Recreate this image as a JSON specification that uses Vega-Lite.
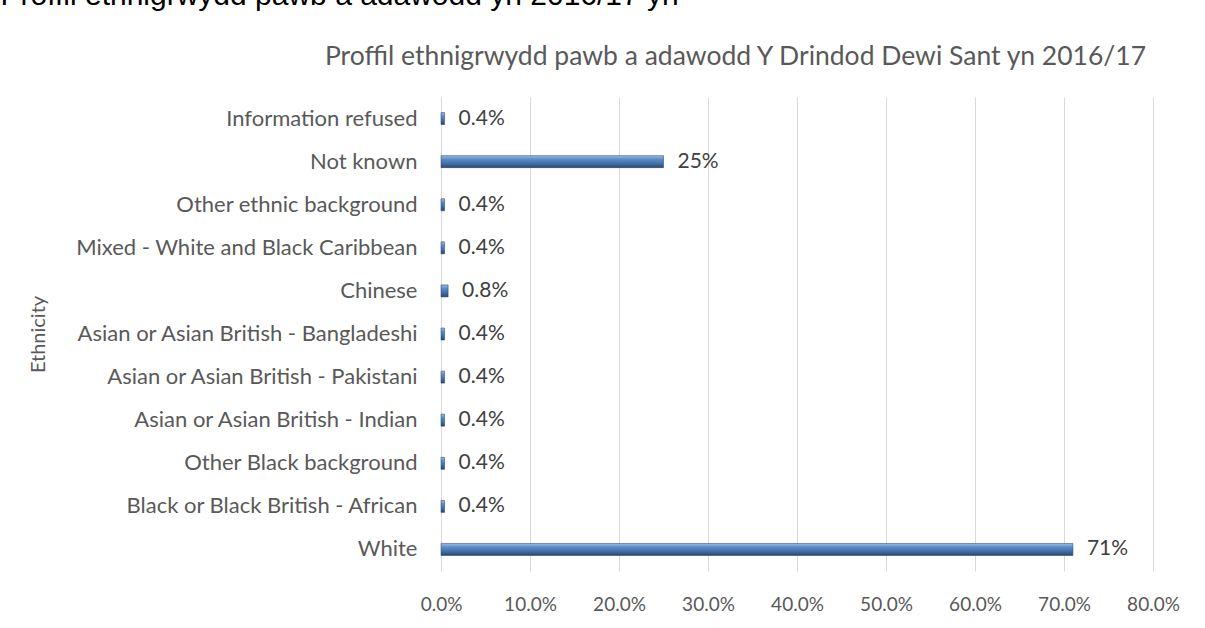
{
  "$schema": "https://vega.github.io/schema/vega-lite/v6.json",
  "autosize": {"type": "none"},
  "padding": {"left": 441, "top": 97, "right": 52, "bottom": 57},
  "width": 712,
  "height": 474,
  "background": "white",
  "data": {
    "values": [
      {"ethnicity": "Information refused", "share": 0.004, "label": "0.4%"},
      {"ethnicity": "Not known", "share": 0.25, "label": "25%"},
      {"ethnicity": "Other ethnic background", "share": 0.004, "label": "0.4%"},
      {"ethnicity": "Mixed - White and Black Caribbean", "share": 0.004, "label": "0.4%"},
      {"ethnicity": "Chinese", "share": 0.008, "label": "0.8%"},
      {"ethnicity": "Asian or Asian British - Bangladeshi", "share": 0.004, "label": "0.4%"},
      {"ethnicity": "Asian or Asian British - Pakistani", "share": 0.004, "label": "0.4%"},
      {"ethnicity": "Asian or Asian British - Indian", "share": 0.004, "label": "0.4%"},
      {"ethnicity": "Other Black background", "share": 0.004, "label": "0.4%"},
      {"ethnicity": "Black or Black British - African", "share": 0.004, "label": "0.4%"},
      {"ethnicity": "White", "share": 0.71, "label": "71%"}
    ]
  },
  "encoding": {
    "y": {
      "field": "ethnicity",
      "type": "nominal",
      "sort": null,
      "axis": {
        "title": "Ethnicity",
        "titleFont": "Lato",
        "titleFontSize": 20,
        "titleFontWeight": "normal",
        "titleColor": "#595959",
        "titleX": -403,
        "titleY": 237,
        "titleAngle": -90,
        "titleAlign": "center",
        "titleBaseline": "middle",
        "labelFont": "Lato",
        "labelFontSize": 22,
        "labelColor": "#595959",
        "labelPadding": 24,
        "labelLimit": 420,
        "ticks": false,
        "domainColor": "#D9D9D9",
        "domainWidth": 1,
        "grid": false
      }
    },
    "x": {
      "field": "share",
      "type": "quantitative",
      "scale": {"domain": [0, 0.8], "nice": false}
    }
  },
  "layer": [
    {
      "mark": {
        "type": "bar",
        "size": 12,
        "color": {
          "gradient": "linear",
          "x1": 0, "y1": 0, "x2": 0, "y2": 1,
          "stops": [
            {"offset": 0, "color": "#9DBCE3"},
            {"offset": 0.3, "color": "#5B8CC8"},
            {"offset": 0.7, "color": "#3F6BA3"},
            {"offset": 1, "color": "#2A476E"}
          ]
        },
        "stroke": "#1F3A5F",
        "strokeWidth": 0.5
      },
      "encoding": {
        "x": {
          "field": "share",
          "type": "quantitative",
          "axis": {
            "orient": "bottom",
            "title": "Proffil ethnigrwydd pawb a adawodd yn 2016/17 yn",
            "titleX": -441,
            "titleY": -567,
            "titleAlign": "left",
            "titleAnchor": "start",
            "titleBaseline": "alphabetic",
            "titleAngle": 0,
            "titleFont": "Liberation Sans",
            "titleFontSize": 30,
            "titleFontWeight": "normal",
            "titleColor": "#000000",
            "format": ".1%",
            "values": [0, 0.1, 0.2, 0.3, 0.4, 0.5, 0.6, 0.7, 0.8],
            "grid": true,
            "gridColor": "#D9D9D9",
            "gridWidth": 1,
            "domain": false,
            "ticks": false,
            "labelFlush": false,
            "labelFont": "Lato",
            "labelFontSize": 19,
            "labelColor": "#595959",
            "labelPadding": 24
          }
        }
      }
    },
    {
      "mark": {
        "type": "text",
        "align": "left",
        "baseline": "middle",
        "dx": 14,
        "font": "Lato",
        "fontSize": 21,
        "color": "#404040"
      },
      "encoding": {
        "text": {"field": "label"},
        "x": {
          "field": "share",
          "type": "quantitative",
          "axis": {
            "orient": "top",
            "title": "Proffil ethnigrwydd pawb a adawodd Y Drindod Dewi Sant yn 2016/17",
            "labels": false,
            "ticks": false,
            "domain": false,
            "grid": false,
            "titleX": 294,
            "titleY": -33,
            "titleAlign": "center",
            "titleBaseline": "alphabetic",
            "titleAngle": 0,
            "titleFont": "Lato",
            "titleFontSize": 26.5,
            "titleFontWeight": "normal",
            "titleColor": "#595959"
          }
        }
      }
    }
  ],
  "resolve": {"axis": {"x": "independent"}},
  "config": {"view": {"stroke": null}}
}
